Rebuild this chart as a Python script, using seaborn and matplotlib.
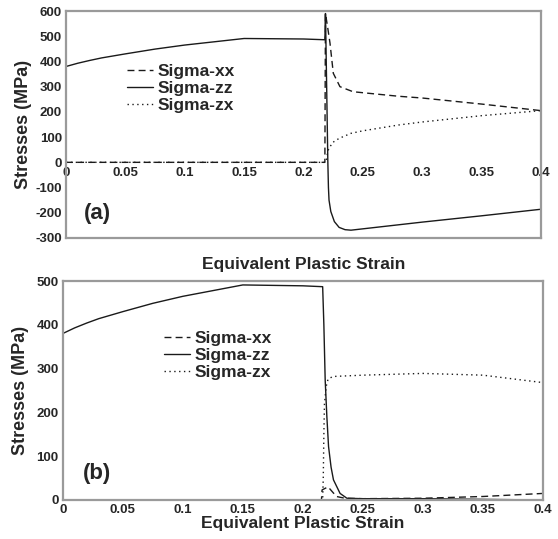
import numpy as np
import pandas as pd
import matplotlib
matplotlib.use("Agg")
import matplotlib.pyplot as plt
import seaborn as sns

# panel (a)
strain_a_zz = [0, 0.01, 0.02, 0.03, 0.05, 0.075, 0.1, 0.125, 0.15, 0.2, 0.218,
               0.2185, 0.2195, 0.2205, 0.221, 0.2215, 0.223, 0.226, 0.23,
               0.235, 0.24, 0.3, 0.35, 0.4]
sigma_a_zz = [380, 393, 404, 414, 430, 449, 465, 478, 491, 489, 486,
              590, 300, 0, -100, -150, -195, -235, -258,
              -267, -269, -237, -212, -186]

strain_a_xx = [0, 0.218, 0.2185, 0.2205, 0.2223, 0.2251, 0.2307, 0.2417,
               0.25, 0.28, 0.3, 0.35, 0.4]
sigma_a_xx = [0, 0, 590, 530, 473, 353, 300, 280, 276, 262, 255, 231, 205]

strain_a_zx = [0, 0.219, 0.2205, 0.222, 0.225, 0.23, 0.24, 0.25, 0.28,
               0.3, 0.35, 0.4]
sigma_a_zx = [0, 0, 45, 60, 80, 95, 115, 125, 148, 160, 185, 205]

# panel (b)
strain_b_zz = [0, 0.01, 0.02, 0.03, 0.05, 0.075, 0.1, 0.125, 0.15, 0.2, 0.2165,
               0.2175, 0.2186, 0.22, 0.2214, 0.2235, 0.2255, 0.231, 0.2367,
               0.25, 0.3, 0.4]
sigma_b_zz = [380, 393, 404, 414, 430, 449, 465, 478, 491, 489, 487,
              400, 274, 190, 122, 75, 46, 15, 4,
              3, 3, 0]

strain_b_xx = [0, 0.2155, 0.216, 0.221, 0.228, 0.235, 0.25, 0.3, 0.35, 0.4]
sigma_b_xx = [0, 0, 23, 30, 8, 4, 3, 4, 8, 15]

strain_b_zx = [0, 0.2165, 0.217, 0.2175, 0.218, 0.2195, 0.221, 0.225, 0.25,
               0.3, 0.35, 0.4]
sigma_b_zx = [0, 0, 50, 150, 220, 260, 276, 282, 285, 289, 285, 268]

x_ticks = [0, 0.05, 0.1, 0.15, 0.2, 0.25, 0.3, 0.35, 0.4]
x_tick_labels = ["0", "0.05", "0.1", "0.15", "0.2", "0.25", "0.3", "0.35", "0.4"]
y_ticks_a = [-300, -200, -100, 0, 100, 200, 300, 400, 500, 600]
y_ticks_b = [0, 100, 200, 300, 400, 500]

sns.set_style("white")
plt.rcParams["font.family"] = ["Liberation Sans", "DejaVu Sans"]
plt.rcParams["font.weight"] = "bold"

line_col = "#1a1a1a"
spine_col = "#9a9a9a"

fig = plt.figure(figsize=(5.58, 5.39), dpi=100)
ax_a = fig.add_axes([66 / 558, 1 - 238 / 539, 475 / 558, 227 / 539])
ax_b = fig.add_axes([62.7 / 558, 1 - 500 / 539, 480.3 / 558, 219 / 539])


def draw_panel(ax, series):
    for x, y, ls, lab in series:
        df = pd.DataFrame({"strain": x, "stress": y})
        sns.lineplot(data=df, x="strain", y="stress", ax=ax, color=line_col,
                     linestyle=ls, linewidth=1.0, label=lab,
                     estimator=None, sort=False)
    for sp in ax.spines.values():
        sp.set_color(spine_col)
        sp.set_linewidth(1.6)
    ax.tick_params(length=0, labelsize=9.5)
    ax.set_xlim(0, 0.4)


draw_panel(ax_a, [
    (strain_a_xx, sigma_a_xx, (0, (5, 3)), "Sigma-xx"),
    (strain_a_zz, sigma_a_zz, "-", "Sigma-zz"),
    (strain_a_zx, sigma_a_zx, (0, (1, 2.5)), "Sigma-zx"),
])
draw_panel(ax_b, [
    (strain_b_xx, sigma_b_xx, (0, (5, 3)), "Sigma-xx"),
    (strain_b_zz, sigma_b_zz, "-", "Sigma-zz"),
    (strain_b_zx, sigma_b_zx, (0, (1, 2.5)), "Sigma-zx"),
])

# panel (a): x tick labels sit on the zero line
ax_a.set_ylim(-300, 600)
ax_a.set_yticks(y_ticks_a)
ax_a.set_yticklabels([str(v) for v in y_ticks_a], fontweight="bold")
ax_a.set_xticks(x_ticks)
ax_a.set_xticklabels([])
zero_loc = (0 - (-300)) / (600 - (-300))
sec = ax_a.secondary_xaxis(zero_loc)
sec.set_xticks(x_ticks)
sec.set_xticklabels(x_tick_labels, fontweight="bold")
sec.tick_params(length=0, labelsize=9.5, pad=3)
sec.spines["bottom"].set_visible(False)
ax_a.tick_params(axis="y", pad=3)
ax_a.set_xlabel("Equivalent Plastic Strain", fontsize=12.5, fontweight="bold",
                labelpad=10)
ax_a.set_ylabel("Stresses (MPa)", fontsize=13, fontweight="bold", labelpad=2)
ax_a.text(0.067, 0.11, "(a)", transform=ax_a.transAxes, fontsize=16,
          fontweight="bold", ha="center", va="center")
ax_a.legend(loc="upper left", bbox_to_anchor=(0.128, 0.765), frameon=False,
            handlelength=1.5, handletextpad=0.3,
            labelspacing=0.1, borderpad=0, borderaxespad=0,
            prop={"weight": "bold", "size": 12.5})

# panel (b)
ax_b.set_ylim(0, 500)
ax_b.set_yticks(y_ticks_b)
ax_b.set_yticklabels([str(v) for v in y_ticks_b], fontweight="bold")
ax_b.set_xticks(x_ticks)
ax_b.set_xticklabels(x_tick_labels, fontweight="bold")
ax_b.tick_params(axis="x", pad=3)
ax_b.tick_params(axis="y", pad=3)
ax_b.set_xlabel("Equivalent Plastic Strain", fontsize=12.5, fontweight="bold",
                labelpad=0)
ax_b.set_ylabel("Stresses (MPa)", fontsize=13, fontweight="bold", labelpad=5)
ax_b.text(0.071, 0.12, "(b)", transform=ax_b.transAxes, fontsize=16,
          fontweight="bold", ha="center", va="center")
ax_b.legend(loc="upper left", bbox_to_anchor=(0.21, 0.772), frameon=False,
            handlelength=1.5, handletextpad=0.3,
            labelspacing=0.1, borderpad=0, borderaxespad=0,
            prop={"weight": "bold", "size": 12.5})

fig.savefig("out.png", dpi=100)
